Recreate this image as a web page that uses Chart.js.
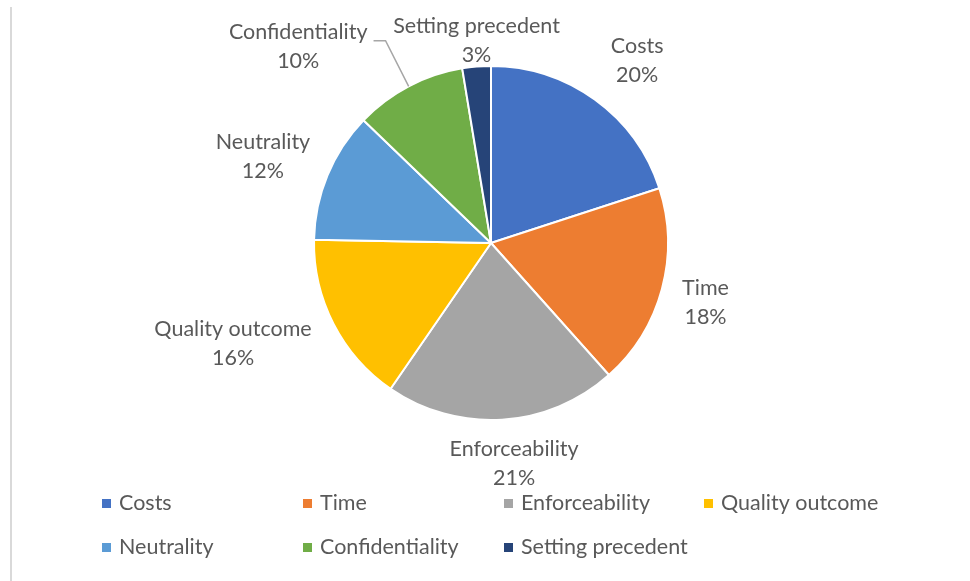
<!DOCTYPE html>
<html><head><meta charset="utf-8">
<script src="https://cdn.jsdelivr.net/npm/chart.js@4/dist/chart.umd.min.js"></script>
<style>
html,body{margin:0;padding:0;background:#fff;}
#wrap{position:relative;width:970px;height:581px;overflow:hidden;}
#frame{position:absolute;left:10px;top:7px;width:2px;bottom:0;background:#d9d9d9;}
canvas{position:absolute;left:0;top:0;}
</style></head><body>
<div id="wrap"><div id="frame"></div><canvas id="c" width="970" height="581"></canvas></div>
<script>
// ---- data ----
const categories = ['Costs','Time','Enforceability','Quality outcome','Neutrality','Confidentiality','Setting precedent'];
const shares = [20.0, 18.4, 21.2, 15.7, 11.9, 10.2, 2.6];
const colors = ['#4472C4','#ED7D31','#A5A5A5','#FFC000','#5B9BD5','#70AD47','#264478'];

const total = shares.reduce((a,b)=>a+b,0);
const pctLabels = shares.map(v => Math.round(v/total*100) + '%');

// ---- style / layout ----
const FONT = '21.5px Lato, "Open Sans", sans-serif';
const TEXT = '#595959';
const LINE = 29;
const PAD = 14;
const labelNudge = [[11,4],[1,2],[9,-3],[-14,-25],[-1,8],[-77,24],[4,24]];
const leaderFor = [false,false,false,false,false,true,false];
const legendCols = [102, 303, 504, 704];
const legendRows = [503.5, 547.5];

const outsideLabels = {
  id: 'outsideLabels',
  afterDatasetsDraw(chart) {
    const ctx = chart.ctx;
    const meta = chart.getDatasetMeta(0);
    ctx.save();
    ctx.font = FONT;
    ctx.fillStyle = TEXT;
    ctx.textAlign = 'center';
    ctx.textBaseline = 'middle';
    meta.data.forEach((arc, i) => {
      const p = arc.getProps(['x','y','startAngle','endAngle','outerRadius'], true);
      const mid = (p.startAngle + p.endAngle) / 2;
      const c = Math.cos(mid), s = Math.sin(mid);
      const l1 = categories[i], l2 = pctLabels[i];
      const w = Math.max(ctx.measureText(l1).width, ctx.measureText(l2).width);
      const h = LINE * 2;
      const d = p.outerRadius + PAD + Math.abs(c) * w / 2 + Math.abs(s) * h / 2;
      const cx = p.x + c * d + labelNudge[i][0];
      const cy = p.y + s * d + labelNudge[i][1];
      ctx.fillText(l1, cx, cy - LINE / 2);
      ctx.fillText(l2, cx, cy + LINE / 2);
      if (leaderFor[i]) {
        const right = cx + ctx.measureText(l1).width / 2;
        ctx.save();
        ctx.strokeStyle = '#a6a6a6';
        ctx.lineWidth = 1.5;
        ctx.beginPath();
        ctx.moveTo(p.x + c * p.outerRadius, p.y + s * p.outerRadius);
        ctx.lineTo(right + 18, cy - 6);
        ctx.lineTo(right + 6, cy - 6);
        ctx.stroke();
        ctx.restore();
      }
    });
    ctx.restore();
  }
};

const gridLegend = {
  id: 'gridLegend',
  afterDraw(chart) {
    const ctx = chart.ctx;
    ctx.save();
    ctx.font = FONT;
    ctx.textAlign = 'left';
    ctx.textBaseline = 'middle';
    categories.forEach((name, i) => {
      const x = legendCols[i % 4];
      const y = legendRows[Math.floor(i / 4)];
      ctx.fillStyle = colors[i];
      ctx.fillRect(x, y - 4.5, 9, 9);
      ctx.fillStyle = TEXT;
      ctx.fillText(name, x + 17, y);
    });
    ctx.restore();
  }
};

new Chart(document.getElementById('c'), {
  type: 'pie',
  data: {
    labels: categories,
    datasets: [{
      data: shares,
      backgroundColor: colors,
      borderColor: '#ffffff',
      borderWidth: 2
    }]
  },
  options: {
    responsive: false,
    devicePixelRatio: 1,
    animation: false,
    layout: { padding: { left: 313, right: 301, top: 65, bottom: 160 } },
    plugins: { legend: { display: false }, tooltip: { enabled: false } }
  },
  plugins: [outsideLabels, gridLegend]
});
</script>
</body></html>
